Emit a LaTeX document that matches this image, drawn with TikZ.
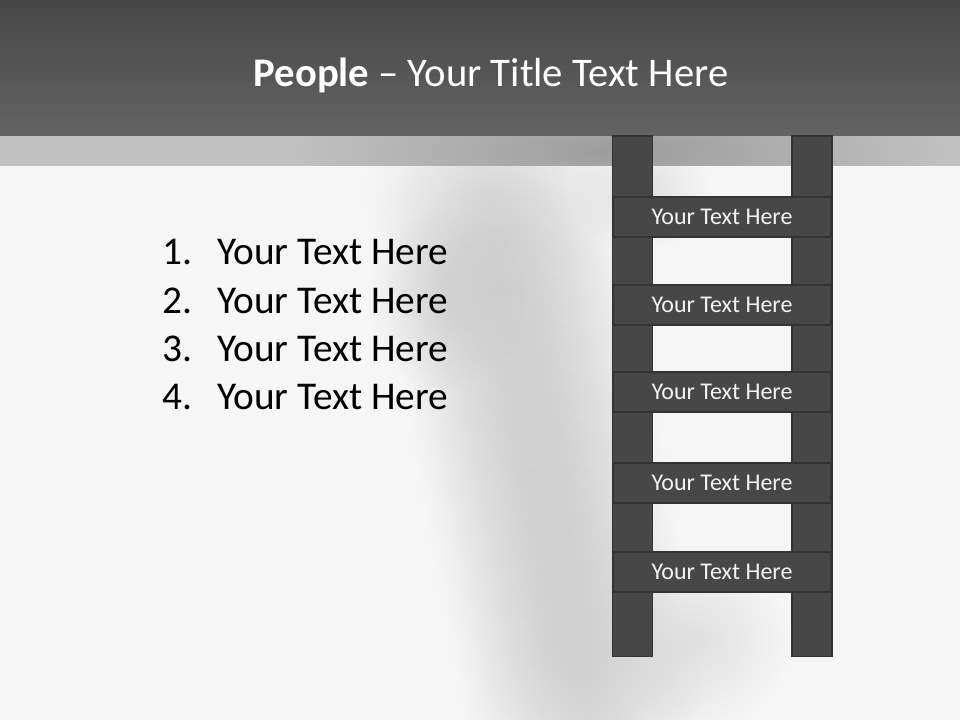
\documentclass[tikz,border=0pt]{standalone}
\usepackage{fontspec}
\setmainfont{Carlito}
\usetikzlibrary{fadings}

\definecolor{headtop}{HTML}{474747}
\definecolor{headbot}{HTML}{636363}
\definecolor{bandgray}{HTML}{C0C0C0}
\definecolor{banddark}{HTML}{9C9C9C}
\definecolor{bodybg}{HTML}{F6F6F6}
\definecolor{shadowgray}{HTML}{BEBEBE}
\definecolor{railfill}{HTML}{474747}
\definecolor{railedge}{HTML}{333333}
\definecolor{rungtext}{HTML}{F2F2F2}

\tikzfading[name=softblob, inner color=transparent!0, outer color=transparent!100]

\begin{document}
\begin{tikzpicture}[x=0.75pt,y=-0.75pt,
  rail/.style={draw=railedge,fill=railfill,line width=1.4pt},
  rung/.style={draw=railedge,fill=railfill,line width=1.4pt,inner sep=0pt,
    minimum width=164pt,minimum height=29.5pt,
    font=\fontsize{18}{20}\selectfont,text=rungtext},
  item/.style={anchor=base west,inner sep=0pt,font=\fontsize{29.5}{34}\selectfont},
  blob/.style={fill=shadowgray,fill opacity=0.4,path fading=softblob},
]

% background
\fill[bodybg] (0,0) rectangle (960,720);
\begin{scope}
  \clip (0,166) rectangle (960,720);
  \foreach \t in {0,...,11}
    \fill[blob] (490+9*\t,190+48*\t) ellipse (125 and 110);
  \fill[blob] (445,300) ellipse (80 and 90);
  \fill[blob] (640,190) ellipse (70 and 60);
  \fill[blob] (700,640) ellipse (90 and 90);
\end{scope}
\fill[bandgray] (0,136) rectangle (960,166);
\begin{scope}
  \clip (0,136) rectangle (960,166);
  \fill[banddark,path fading=softblob] (620,151) ellipse (320 and 70);
\end{scope}
\shade[top color=headtop,bottom color=headbot] (0,0) rectangle (960,136);

\node[anchor=base,inner sep=0pt,text=white,font=\fontsize{30.5}{34}\selectfont]
  (title) at (491,87) {\textbf{People} -- Your Title Text Here};

% numbered list
\foreach \n in {1,...,4} {
  \node[item] (num\n) at (162,217+48*\n) {\n.};
  \node[item] (item\n) at (217,217+48*\n) {Your Text Here};
}

% ladder
\draw[rail] (612.5,136) rectangle (652.5,656.5);
\draw[rail] (792,136) rectangle (832,656.5);
\foreach \y [count=\i] in {217,305,392,483,572}
  \node[rung] (rung\i) at (722,\y) {Your Text Here};

\end{tikzpicture}
\end{document}
